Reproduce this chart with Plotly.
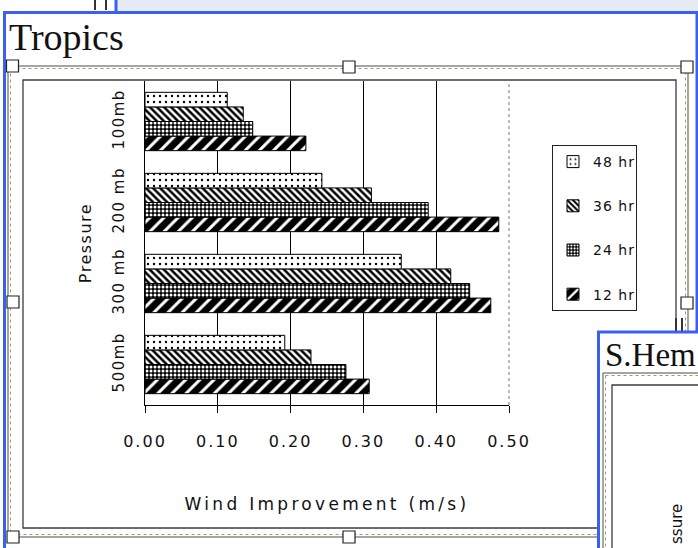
import plotly.graph_objects as go

# ---------------- data ----------------
categories = ["100mb", "200 mb", "300 mb", "500mb"]
category_order_bottom_up = ["500mb", "300 mb", "200 mb", "100mb"]
series_names = ["12 hr", "24 hr", "36 hr", "48 hr"]
legend_ranks = [4, 3, 2, 1]
values_12hr = [0.221, 0.486, 0.475, 0.308]
values_24hr = [0.148, 0.389, 0.446, 0.276]
values_36hr = [0.135, 0.311, 0.420, 0.228]
values_48hr = [0.113, 0.243, 0.352, 0.192]
x_tick_values = [0.0, 0.1, 0.2, 0.3, 0.4, 0.5]
x_grid_values = [0.1, 0.2, 0.3, 0.4]
chart_title = "Tropics"
second_title = "S.Hem"
second_axis_fragment = "ssure"
x_title = "Wind Improvement (m/s)"
y_title = "Pressure"

# ---------------- geometry helpers (decorations only) ----------------
W, H = 698, 548
L, R, T, B = 145, 509, 81, 405


def px(x):
    return (x - L) / (R - L)


def py(y):
    return (B - y) / (B - T)


FONT = "DejaVu Sans"
BLUE = "rgb(58,96,242)"

patterns = {
    "12 hr": dict(shape="/", fgcolor="white", bgcolor="black", size=10, solidity=0.3, fillmode="replace"),
    "24 hr": dict(shape=".", fgcolor="white", bgcolor="black", size=4, solidity=0.45, fillmode="replace"),
    "36 hr": dict(shape="\\", fgcolor="black", bgcolor="white", size=5, solidity=0.5, fillmode="replace"),
    "48 hr": dict(shape=".", fgcolor="black", bgcolor="white", size=6, solidity=0.12, fillmode="replace"),
}
series_values = {"12 hr": values_12hr, "24 hr": values_24hr, "36 hr": values_36hr, "48 hr": values_48hr}

fig = go.Figure()
for name, rank in zip(series_names, legend_ranks):
    fig.add_trace(go.Bar(
        y=categories, x=series_values[name], orientation="h", name=name,
        legendgroup=name, legendrank=rank,
        marker=dict(color="black", line=dict(color="black", width=1), pattern=patterns[name]),
    ))

shapes = []
# top strip of the slide window
shapes.append(dict(type="rect", xref="paper", yref="paper", x0=px(116), x1=px(700), y0=py(0), y1=py(11),
                   fillcolor="#e6ebf3", line=dict(width=0), layer="above"))
for gx in (95, 106):
    shapes.append(dict(type="line", xref="paper", yref="paper", x0=px(gx), x1=px(gx), y0=py(-2), y1=py(10),
                       line=dict(color="#333", width=2), layer="above"))
shapes.append(dict(type="line", xref="paper", yref="paper", x0=px(116), x1=px(116), y0=py(-2), y1=py(12),
                   line=dict(color=BLUE, width=3), layer="above"))
# Tropics selection frame (blue)
shapes.append(dict(type="rect", xref="paper", yref="paper", x0=px(4.5), x1=px(697), y0=py(12.5), y1=py(620),
                   line=dict(color=BLUE, width=3), layer="above"))
# chart object frame (double line)
shapes.append(dict(type="rect", xref="paper", yref="paper", x0=px(8), x1=px(688), y0=py(66), y1=py(537),
                   line=dict(color="#4e4e40", width=1), layer="above"))
shapes.append(dict(type="rect", xref="paper", yref="paper", x0=px(10.5), x1=px(685.5), y0=py(68.5), y1=py(534.5),
                   line=dict(color="#9a9a80", width=1, dash="dot"), layer="above"))
# chart area border
shapes.append(dict(type="rect", xref="paper", yref="paper", x0=px(23), x1=px(676), y0=py(80), y1=py(528),
                   line=dict(color="#3c3c3c", width=1.3), layer="above"))
# plot area right border (dotted)
shapes.append(dict(type="line", xref="x domain", yref="y domain", x0=1, x1=1, y0=0, y1=1,
                   line=dict(color="#8c8c9c", width=1.2, dash="dot"), layer="above"))
# resize handles
for hx, hy in [(12.5, 66), (349, 67), (687, 67), (13, 302), (687, 303), (13, 537), (349, 537)]:
    shapes.append(dict(type="rect", xref="paper", yref="paper", x0=px(hx - 6), x1=px(hx + 6),
                       y0=py(hy + 6), y1=py(hy - 6), fillcolor="white",
                       line=dict(color="#222", width=1.2), layer="above"))
# overlapping S.Hem panel
for gx in (676, 682):
    shapes.append(dict(type="line", xref="paper", yref="paper", x0=px(gx), x1=px(gx), y0=py(318), y1=py(331),
                       line=dict(color="#333", width=2), layer="above"))
shapes.append(dict(type="rect", xref="paper", yref="paper", x0=px(598.5), x1=px(740), y0=py(332), y1=py(640),
                   fillcolor="white", line=dict(color=BLUE, width=3), layer="above"))
shapes.append(dict(type="line", xref="paper", yref="paper", x0=px(603), x1=px(720), y0=py(373), y1=py(373),
                   line=dict(color="#4e4e40", width=1), layer="above"))
shapes.append(dict(type="line", xref="paper", yref="paper", x0=px(605.5), x1=px(720), y0=py(375.5), y1=py(375.5),
                   line=dict(color="#9a9a80", width=1, dash="dot"), layer="above"))
shapes.append(dict(type="line", xref="paper", yref="paper", x0=px(603), x1=px(603), y0=py(373), y1=py(620),
                   line=dict(color="#4e4e40", width=1), layer="above"))
shapes.append(dict(type="line", xref="paper", yref="paper", x0=px(605.5), x1=px(605.5), y0=py(375.5), y1=py(620),
                   line=dict(color="#9a9a80", width=1, dash="dot"), layer="above"))
shapes.append(dict(type="rect", xref="paper", yref="paper", x0=px(612), x1=px(740), y0=py(385), y1=py(640),
                   line=dict(color="#3c3c3c", width=1.3), layer="above"))

annotations = [
    dict(text=chart_title, xref="paper", yref="paper", x=px(7), y=py(37), xanchor="left", yanchor="middle",
         showarrow=False, font=dict(family="Liberation Serif", size=38, color="#111")),
    dict(text=second_title, xref="paper", yref="paper", x=px(603), y=py(355), xanchor="left", yanchor="middle",
         showarrow=False, font=dict(family="Liberation Serif", size=33, color="#111")),
    dict(text=second_axis_fragment, xref="paper", yref="paper", x=px(677), y=py(524), xanchor="center",
         yanchor="middle", textangle=-90, showarrow=False, font=dict(family=FONT, size=15, color="#111")),
]

fig.update_layout(
    template="none",
    width=W, height=H,
    margin=dict(l=L, r=W - R, t=T, b=H - B, pad=0),
    paper_bgcolor="white", plot_bgcolor="white",
    barmode="group", bargap=0.28, bargroupgap=0,
    font=dict(family=FONT, size=15, color="#111"),
    showlegend=True,
    legend=dict(
        x=px(552), y=py(145), xanchor="left", yanchor="top",
        bgcolor="white", bordercolor="#222", borderwidth=1,
        traceorder="grouped", tracegroupgap=23,
        font=dict(family=FONT, size=14, color="#111"), itemwidth=30,
    ),
    shapes=shapes,
    annotations=annotations,
)

fig.update_xaxes(
    range=[0, 0.5], tickvals=x_tick_values, tickformat=".2f",
    showgrid=False, zeroline=False, automargin=False,
    showline=True, linecolor="black", linewidth=1.3,
    ticks="outside", ticklen=7, tickcolor="black", tickwidth=1.3,
    ticklabelstandoff=15,
    tickfont=dict(family=FONT, size=16, color="#111"),
    minor=dict(tickvals=x_grid_values, showgrid=True, gridcolor="black", gridwidth=1.2, ticks=""),
    title=dict(text=x_title, standoff=47, font=dict(family=FONT, size=17, color="#111")),
)
fig.update_yaxes(
    type="category", categoryorder="array", categoryarray=category_order_bottom_up,
    showgrid=False, zeroline=False, automargin=False,
    showline=True, linecolor="black", linewidth=1.3,
    ticks="", tickangle=-90, ticklabelstandoff=14,
    tickfont=dict(family=FONT, size=15, color="#111"),
    title=dict(text=y_title, standoff=14, font=dict(family=FONT, size=16, color="#111")),
)

# widen letter spacing of axis texts to match the reference's wide bitmap font
post_js = """
(function(){
  var gd = document.getElementsByClassName('plotly-graph-div')[0];
  function sp(sel, v){ gd.querySelectorAll(sel).forEach(function(e){ e.style.letterSpacing = v; }); }
  sp('.xtitle', '3.3px');
  sp('.ytitle', '1.5px');
  sp('.xtick text', '2px');
  sp('.ytick text', '1.5px');
  sp('.legendtext', '1px');
})();
"""
fig.write_html("out.html", post_script=post_js)
